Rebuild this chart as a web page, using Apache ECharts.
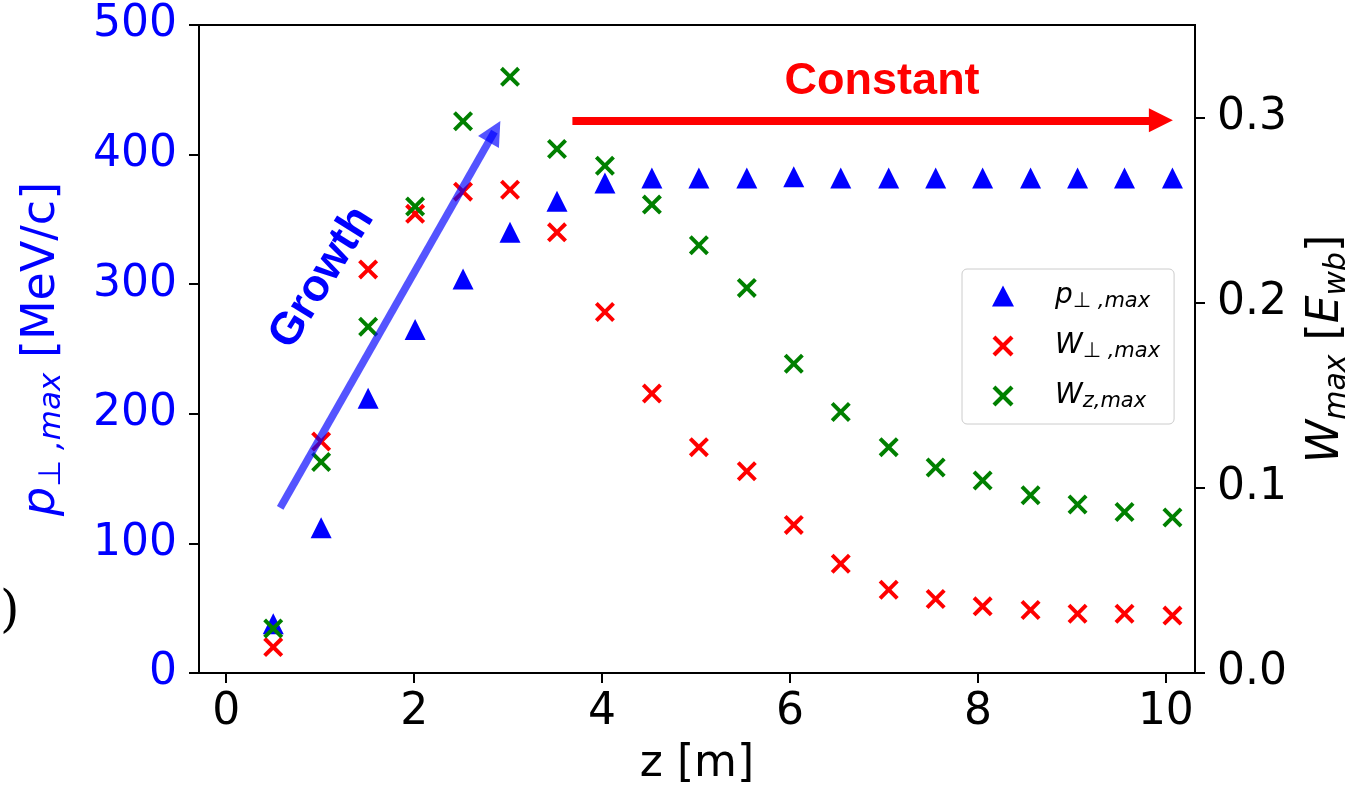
<!DOCTYPE html>
<html><head><meta charset="utf-8">
<script src="https://cdn.jsdelivr.net/npm/echarts@6/dist/echarts.min.js"></script>
<style>html,body{margin:0;padding:0;background:#fff}#c{width:1367px;height:799px}</style>
</head><body><div id="c"></div>
<script>
// ---- data ----
const z = [0.50, 1.01, 1.51, 2.01, 2.52, 3.02, 3.52, 4.03, 4.53, 5.03, 5.54, 6.04, 6.54, 7.05, 7.55, 8.05, 8.56, 9.06, 9.56, 10.07];
const pPerpMax = [38, 112, 212, 265, 304, 340, 364, 378, 382, 382, 382, 383, 382, 382, 382, 382, 382, 382, 382, 382];
const wPerpMax = [0.014, 0.125, 0.218, 0.248, 0.260, 0.261, 0.238, 0.195, 0.151, 0.122, 0.109, 0.080, 0.059, 0.045, 0.040, 0.036, 0.034, 0.032, 0.032, 0.031];
const wZMax = [0.024, 0.114, 0.187, 0.252, 0.298, 0.322, 0.283, 0.274, 0.253, 0.231, 0.208, 0.167, 0.141, 0.122, 0.111, 0.104, 0.096, 0.091, 0.087, 0.084];
const xTicks = [0, 2, 4, 6, 8, 10];
const yRightTicks = [0, 0.1, 0.2, 0.3];
const seriesNames = ['p⊥,max', 'W⊥,max', 'Wz,max'];
const legendRich = {
  'p⊥,max': '{m|p}{s|⊥ ,max}',
  'W⊥,max': '{m|W}{s|⊥ ,max}',
  'Wz,max': '{m|W}{s|z,max}'
};
// annotations (data coordinates)
const growthArrow = [[0.574, 127.4], [2.854, 417.8]];   // left axis units
const growthLabel = [1.02, 305];
const constantArrow = [[3.684, 0.2985], [9.947, 0.2985]]; // right axis units
const constantLabel = [6.98, 0.3195];

const FONT = 'DejaVu Sans';
const cross = 'path://M0,14 L14,0 L50,36 L86,0 L100,14 L64,50 L100,86 L86,100 L50,64 L14,100 L0,86 L36,50 Z';

function pairs(xs, ys) { return xs.map((x, i) => [x, ys[i]]); }

const chart = echarts.init(document.getElementById('c'), null, {renderer: 'canvas'});
const option = {
  animation: false,
  backgroundColor: '#fff',
  grid: {left: 199, right: 172, top: 25, bottom: 126, show: true, borderColor: '#000', borderWidth: 2, backgroundColor: 'transparent'},
  legend: {
    orient: 'vertical', left: 962, top: 269,
    padding: [13, 14, 12, 30],
    itemWidth: 22, itemHeight: 21, itemGap: 20,
    backgroundColor: 'rgba(255,255,255,0.8)', borderColor: '#cccccc', borderWidth: 1, borderRadius: 5,
    selectedMode: false,
    data: seriesNames,
    formatter: n => legendRich[n],
    itemStyle: {opacity: 1},
    textStyle: {
      fontFamily: FONT, fontSize: 27, color: '#000', padding: [0, 0, 0, 36],
      rich: {
        m: {fontFamily: FONT, fontStyle: 'italic', fontSize: 28, lineHeight: 32, color: '#000'},
        s: {fontFamily: FONT, fontStyle: 'italic', fontSize: 21, lineHeight: 23, verticalAlign: 'bottom', color: '#000'}
      }
    }
  },
  xAxis: {
    type: 'value', min: -0.29, max: 10.31,
    name: 'z [m]', nameLocation: 'middle', nameGap: 70,
    nameTextStyle: {fontFamily: FONT, fontSize: 44, color: '#000'},
    axisLine: {show: true, onZero: false, lineStyle: {color: '#000', width: 2}},
    axisTick: {show: true, length: 10, lineStyle: {color: '#000', width: 2}, customValues: xTicks},
    axisLabel: {customValues: xTicks, fontFamily: FONT, fontSize: 44, color: '#000', margin: 18},
    splitLine: {show: false}
  },
  yAxis: [{
    type: 'value', min: 0, max: 500, interval: 100, position: 'left',
    name: '{i|p}{s|⊥ ,max}{n| [MeV/c]}', nameLocation: 'middle', nameRotate: 90, nameGap: 132,
    nameTextStyle: {
      color: '#0000ff', fontFamily: FONT, fontSize: 44,
      rich: {
        i: {fontFamily: FONT, fontStyle: 'italic', fontSize: 46, lineHeight: 50, color: '#0000ff'},
        s: {fontFamily: FONT, fontStyle: 'italic', fontSize: 31, lineHeight: 34, verticalAlign: 'bottom', color: '#0000ff'},
        n: {fontFamily: FONT, fontSize: 46, lineHeight: 50, color: '#0000ff'}
      }
    },
    axisLine: {show: true, onZero: false, lineStyle: {color: '#000', width: 2}},
    axisTick: {show: true, length: 10, lineStyle: {color: '#000', width: 2}},
    axisLabel: {fontFamily: FONT, fontSize: 44, color: '#0000ff', margin: 22},
    splitLine: {show: false}
  }, {
    type: 'value', min: 0, max: 0.35, position: 'right',
    name: '{i|W}{s|max}{n| [}{i|E}{s|wb}{n|]}', nameLocation: 'middle', nameRotate: 90, nameGap: 107,
    nameTextStyle: {
      color: '#000', fontFamily: FONT, fontSize: 44,
      rich: {
        i: {fontFamily: FONT, fontStyle: 'italic', fontSize: 44, lineHeight: 50, color: '#000'},
        s: {fontFamily: FONT, fontStyle: 'italic', fontSize: 30, lineHeight: 34, verticalAlign: 'bottom', color: '#000'},
        n: {fontFamily: FONT, fontSize: 44, lineHeight: 50, color: '#000'}
      }
    },
    axisLine: {show: true, onZero: false, lineStyle: {color: '#000', width: 2}},
    axisTick: {show: true, length: 10, lineStyle: {color: '#000', width: 2}, customValues: yRightTicks},
    axisLabel: {customValues: yRightTicks, formatter: v => v.toFixed(1), fontFamily: FONT, fontSize: 44, color: '#000', margin: 22},
    splitLine: {show: false}
  }],
  series: [{
    name: seriesNames[0], type: 'scatter', yAxisIndex: 0,
    data: pairs(z, pPerpMax), symbol: 'triangle', symbolSize: 21,
    itemStyle: {color: '#0000ff', opacity: 1}, emphasis: {disabled: true},
    markLine: {
      silent: true, symbol: ['none', 'triangle'], symbolSize: 24,
      label: {show: false}, emphasis: {disabled: true},
      lineStyle: {color: 'rgba(0,0,255,0.67)', width: 7.5, type: 'solid', opacity: 1},
      data: [[{coord: growthArrow[0]}, {coord: growthArrow[1]}]]
    },
    markPoint: {
      silent: true, symbol: 'circle', symbolSize: 1, itemStyle: {color: 'rgba(0,0,0,0)'},
      label: {show: true, position: 'inside', formatter: 'Growth', rotate: 58,
        fontFamily: 'Liberation Sans', fontWeight: 'bold', fontSize: 45, color: '#0000ff'},
      data: [{coord: growthLabel}]
    }
  }, {
    name: seriesNames[1], type: 'scatter', yAxisIndex: 1,
    data: pairs(z, wPerpMax), symbol: cross, symbolSize: 20,
    itemStyle: {color: '#ff0000', opacity: 1}, emphasis: {disabled: true},
    markLine: {
      silent: true, symbol: ['none', 'triangle'], symbolSize: 24,
      label: {show: false}, emphasis: {disabled: true},
      lineStyle: {color: '#ff0000', width: 8, type: 'solid', opacity: 1},
      data: [[{coord: constantArrow[0]}, {coord: constantArrow[1]}]]
    },
    markPoint: {
      silent: true, symbol: 'circle', symbolSize: 1, itemStyle: {color: 'rgba(0,0,0,0)'},
      label: {show: true, position: 'inside', formatter: 'Constant',
        fontFamily: 'Liberation Sans', fontWeight: 'bold', fontSize: 45, color: '#ff0000'},
      data: [{coord: constantLabel}]
    }
  }, {
    name: seriesNames[2], type: 'scatter', yAxisIndex: 1,
    data: pairs(z, wZMax), symbol: cross, symbolSize: 20,
    itemStyle: {color: '#008000', opacity: 1}, emphasis: {disabled: true}
  }],
  graphic: [{
    type: 'text', left: 0, top: 588,
    style: {text: ')', fontFamily: 'DejaVu Serif', fontSize: 50, fill: '#000'}
  }]
};
chart.setOption(option);
</script>
</body></html>
